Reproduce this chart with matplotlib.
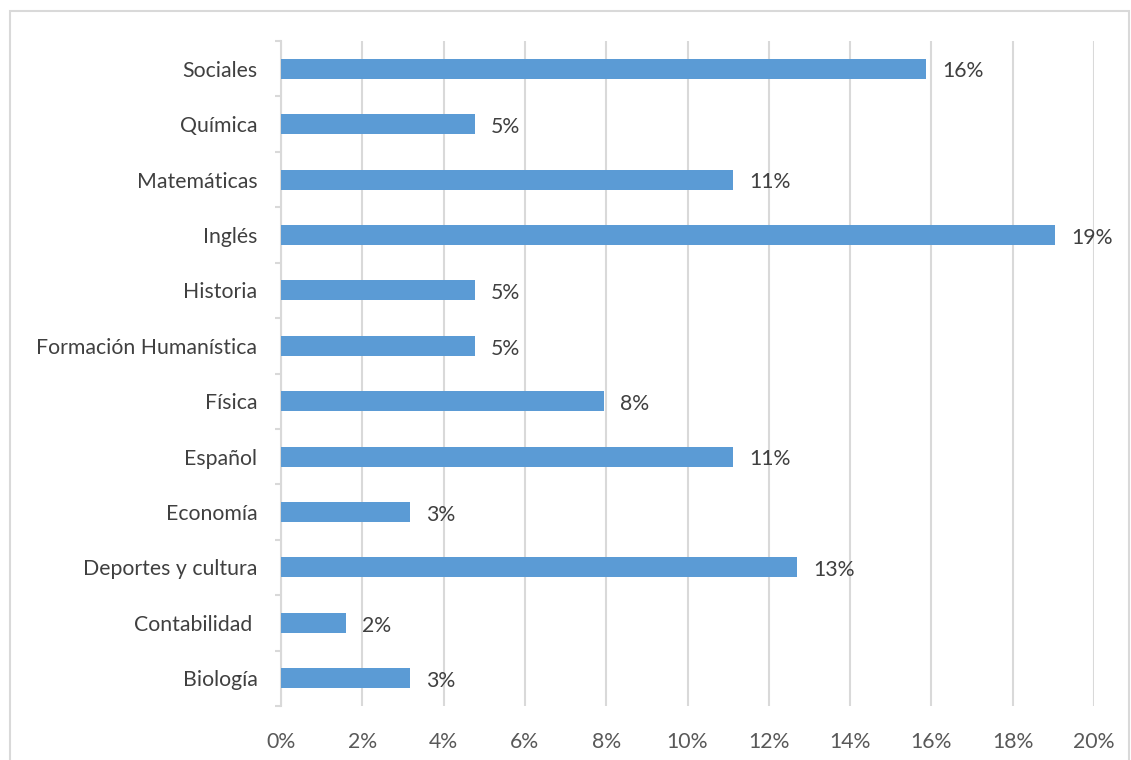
import numpy as np
import matplotlib.pyplot as plt
from matplotlib.patches import Rectangle

plt.rcParams['font.family'] = ['Lato', 'DejaVu Sans']

categories = ['Biología', 'Contabilidad ', 'Deportes y cultura', 'Economía', 'Español',
              'Física', 'Formación Humanística', 'Historia', 'Inglés', 'Matemáticas',
              'Química', 'Sociales']
counts = [2, 1, 8, 2, 7, 5, 3, 3, 12, 7, 3, 10]
total = 63
values = [c / total * 100 for c in counts]
labels = ['3%', '2%', '13%', '3%', '11%', '8%', '5%', '5%', '19%', '11%', '5%', '16%']

fig = plt.figure(figsize=(11.31, 7.6), dpi=100)
ax = fig.add_axes([281 / 1131, 1 - 706 / 760, (1094 - 281) / 1131, (706 - 41) / 760])

y = np.arange(len(categories))
ax.barh(y, values, height=0.36, color='#5b9bd5', zorder=3)
for yi, v, lab in zip(y, values, labels):
    ax.text(v + 0.4, yi - 0.05, lab, va='center', ha='left', fontsize=15.3, color='#404040')

ax.set_xlim(0, 20)
ax.set_ylim(-0.5, len(categories) - 0.5)
ax.set_xticks(np.arange(0, 21, 2))
ax.set_xticklabels([f'{t}%' for t in range(0, 21, 2)])
ax.set_yticks(y)
ax.set_yticklabels(categories)
ax.set_yticks(np.arange(-0.5, len(categories), 1), minor=True)
ax.tick_params(axis='y', which='major', length=0, pad=17, labelsize=15.3, labelcolor='#404040')
ax.tick_params(axis='y', which='minor', length=4, color='#d9d9d9', width=1.5)
ax.tick_params(axis='x', length=0, pad=19, labelsize=15.3, labelcolor='#595959')
ax.grid(axis='x', color='#d9d9d9', linewidth=1.5, zorder=0)
for s in ['top', 'right', 'bottom']:
    ax.spines[s].set_visible(False)
ax.spines['left'].set_color('#d9d9d9')
ax.spines['left'].set_linewidth(1.5)

fig.patches.append(Rectangle((10 / 1131, -0.01), 1119 / 1131, 1 - 11 / 760 + 0.01,
                             transform=fig.transFigure, fill=False,
                             edgecolor='#d9d9d9', linewidth=1.5))

fig.savefig('out.png', dpi=100)
